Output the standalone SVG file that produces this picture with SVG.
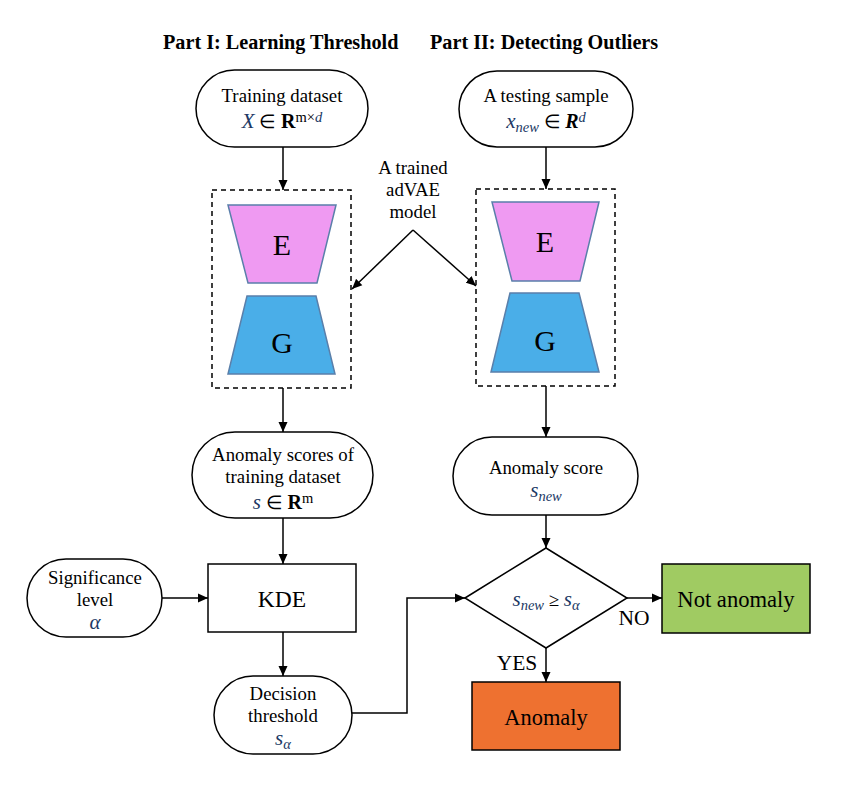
<svg xmlns="http://www.w3.org/2000/svg" width="842" height="790" viewBox="0 0 842 790">
<defs>
<marker id="ah" markerWidth="10" markerHeight="10" viewBox="0 0 10 10" refX="10" refY="5" orient="auto" markerUnits="userSpaceOnUse">
<path d="M0,0.5 L10,5 L0,9.5 Z" fill="#000"/>
</marker>
<style>
text{font-family:"Liberation Serif","Times New Roman",serif;fill:#000;text-anchor:middle}
.t{font-size:18.8px}
.title{font-size:20.2px;font-weight:bold;text-anchor:start}
.m{font-style:italic;fill:#203864;font-size:21px}
.b{font-weight:bold;font-size:20px}
.s{font-size:14.5px}
.pill{fill:#fff;stroke:#000;stroke-width:1.5}
.box{stroke:#000;stroke-width:1.5}
.dash{fill:none;stroke:#000;stroke-width:1.5;stroke-dasharray:5,4}
.enc{fill:#EF9AF2;stroke:#5A7FAA;stroke-width:1.5}
.gen{fill:#4AAEE8;stroke:#5A7FAA;stroke-width:1.5}
.big{font-size:30px}
.c{fill:none;stroke:#000;stroke-width:1.5;marker-end:url(#ah)}
</style>
</defs>
<rect width="842" height="790" fill="#fff"/>
<text class="title" x="163" y="49">Part I: Learning Threshold</text>
<text class="title" x="430" y="49">Part II: Detecting Outliers</text>

<g id="connectors">
<line class="c" x1="283" y1="147" x2="283" y2="190"/>
<line class="c" x1="546" y1="147" x2="546" y2="189"/>
<polyline class="c" points="413,230 352,289"/>
<polyline class="c" points="413,230 476,286"/>
<line class="c" x1="283" y1="388" x2="283" y2="432"/>
<line class="c" x1="546" y1="386" x2="546" y2="437"/>
<line class="c" x1="283" y1="518" x2="283" y2="564"/>
<line class="c" x1="162" y1="598" x2="208" y2="598"/>
<line class="c" x1="283" y1="632" x2="283" y2="676"/>
<polyline class="c" points="352,713 407,713 407,598 465,598"/>
<line class="c" x1="546" y1="515" x2="546" y2="548"/>
<line class="c" x1="627" y1="598" x2="662" y2="598"/>
<line class="c" x1="546" y1="648" x2="546" y2="682"/>
</g>

<g id="model-label">
<text class="t" x="413" y="174">A trained</text>
<text class="t" x="413" y="196">adVAE</text>
<text class="t" x="413" y="218">model</text>
</g>

<g id="training-dataset">
<rect class="pill" x="196" y="70" width="172" height="77" rx="38.5"/>
<text class="t" x="282" y="102">Training dataset</text>
<text class="t" x="282" y="128"><tspan class="m">X</tspan> ∈ <tspan class="b">R</tspan><tspan class="s" dy="-6">m×</tspan><tspan class="s m">d</tspan></text>
</g>

<g id="testing-sample">
<rect class="pill" x="459" y="71" width="174" height="76" rx="38"/>
<text class="t" x="546" y="102">A testing sample</text>
<text class="t" x="546" y="128"><tspan class="m">x</tspan><tspan class="s m" dy="4">new</tspan><tspan dy="-4"> ∈ </tspan><tspan class="b" font-style="italic">R</tspan><tspan class="s m" dy="-6">d</tspan></text>
</g>

<g id="advae-left">
<rect class="dash" x="212" y="190" width="139" height="198"/>
<polygon class="enc" points="228,205 336,205 317,283 248,283"/>
<polygon class="gen" points="247,296 316,296 335,374 228,374"/>
<text class="big" x="282" y="255">E</text>
<text class="big" x="282" y="353">G</text>
</g>

<g id="advae-right">
<rect class="dash" x="476" y="189" width="139" height="197"/>
<polygon class="enc" points="492,202 599,202 580,281 512,281"/>
<polygon class="gen" points="510,293 579,293 599,372 491,372"/>
<text class="big" x="545" y="252">E</text>
<text class="big" x="545" y="351">G</text>
</g>

<g id="anomaly-scores">
<rect class="pill" x="192" y="432" width="181" height="86" rx="43"/>
<text class="t" x="283" y="461">Anomaly scores of</text>
<text class="t" x="283" y="483">training dataset</text>
<text class="t" x="283" y="509"><tspan class="m">s</tspan> ∈ <tspan class="b">R</tspan><tspan class="s" dy="-6">m</tspan></text>
</g>

<g id="anomaly-score">
<rect class="pill" x="453" y="437" width="185" height="78" rx="39"/>
<text class="t" x="546" y="474">Anomaly score</text>
<text class="t" x="546" y="497"><tspan class="m">s</tspan><tspan class="s m" dy="4">new</tspan></text>
</g>

<g id="significance">
<rect class="pill" x="27" y="559" width="135" height="78" rx="39"/>
<text class="t" x="95" y="584">Significance</text>
<text class="t" x="95" y="606">level</text>
<text class="t" x="95" y="629"><tspan class="m">α</tspan></text>
</g>

<g id="kde">
<rect class="box" fill="#fff" x="208" y="564" width="148" height="68"/>
<text x="282" y="607" font-size="23.5px">KDE</text>
</g>

<g id="decision-threshold">
<rect class="pill" x="214" y="676" width="138" height="78" rx="39"/>
<text class="t" x="283" y="700">Decision</text>
<text class="t" x="283" y="722">threshold</text>
<text class="t" x="283" y="745"><tspan class="m">s</tspan><tspan class="s m" dy="4">α</tspan></text>
</g>

<g id="decision">
<polygon class="box" fill="#fff" points="465,598 546,548 627,598 546,648"/>
<text class="t" x="546" y="606"><tspan class="m">s</tspan><tspan class="s m" dy="4">new</tspan><tspan dy="-4"> ≥ </tspan><tspan class="m">s</tspan><tspan class="s m" dy="4">α</tspan></text>
</g>

<g id="not-anomaly">
<rect class="box" fill="#A0CB62" x="662" y="564" width="148" height="69"/>
<text x="736" y="607" font-size="22.6px">Not anomaly</text>
</g>

<g id="anomaly">
<rect class="box" fill="#EE7130" x="472" y="682" width="148" height="68"/>
<text x="546" y="725" font-size="22.4px">Anomaly</text>
</g>

<g id="edge-labels">
<text x="634" y="625" font-size="21.5px">NO</text>
<text x="517" y="670" font-size="21.5px">YES</text>
</g>
</svg>
